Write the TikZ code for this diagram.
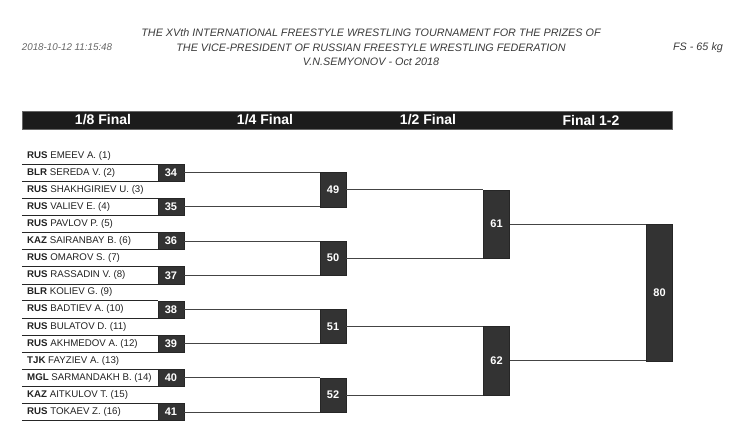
\documentclass[tikz,border=0pt]{standalone}
\usepackage{fontspec}
\setmainfont{Liberation Sans}
\usetikzlibrary{positioning}
\definecolor{ink}{HTML}{222222}
\definecolor{boxgray}{HTML}{333333}
\definecolor{barblack}{HTML}{1C1C1C}
\definecolor{titlegray}{HTML}{3A3A3A}
\definecolor{stampgray}{HTML}{666666}
\definecolor{wiregray}{HTML}{444444}

\begin{document}
\begin{tikzpicture}[x=1pt,y=-1pt,
 title/.style={font=\fontsize{10.8}{13}\selectfont\itshape,text=titlegray,inner sep=0pt},
 meta/.style={font=\fontsize{9.8}{11}\selectfont\itshape,text=stampgray,inner sep=0pt},
 bar/.style={fill=barblack,draw=black!60,minimum width=650pt,minimum height=18pt,inner sep=0pt},
 round/.style={font=\fontsize{14}{16}\selectfont\bfseries,text=white,inner sep=0pt},
 athlete/.style={anchor=west,inner sep=0pt,font=\fontsize{9.7}{11}\selectfont,text=ink},
 seat/.style={minimum width=136pt,minimum height=17.1pt,inner sep=0pt},
 bout/.style={fill=boxgray,draw=black!85,line width=.5pt,minimum width=26pt,inner sep=0pt,text=white,font=\fontsize{11}{12}\selectfont\bfseries},
 rule/.style={black!85,line width=.8pt},
 wire/.style={wiregray,line width=.8pt}]
 \useasboundingbox (0,0) rectangle (739,444);
 % heading
 \node[title] (head1) at (371,33) {THE XVth INTERNATIONAL FREESTYLE WRESTLING TOURNAMENT FOR THE PRIZES OF};
 \node[title] (head2) at (371,47.5) {THE VICE-PRESIDENT OF RUSSIAN FREESTYLE WRESTLING FEDERATION};
 \node[title] (head3) at (371,62) {V.N.SEMYONOV - Oct 2018};
 \node[meta] (stamp) at (67,47.5) {2018-10-12 11:15:48};
 \node[title] (weight) at (698,47.5) {FS - 65 kg};
 % round bar
 \node[bar] (rounds) at (347,120) {};
 \node[round] (r8) at (103,120) {1/8 Final};
 \node[round] (r4) at (265,120) {1/4 Final};
 \node[round] (r2) at (428,120) {1/2 Final};
 \node[round] (r1) at (591,120) {Final 1-2};
 % athletes
 \foreach \code/\who [count=\i] in {RUS/EMEEV A. (1),BLR/SEREDA V. (2),RUS/SHAKHGIRIEV U. (3),RUS/VALIEV E. (4),
   RUS/PAVLOV P. (5),KAZ/SAIRANBAY B. (6),RUS/OMAROV S. (7),RUS/RASSADIN V. (8),BLR/KOLIEV G. (9),
   RUS/BADTIEV A. (10),RUS/BULATOV D. (11),RUS/AKHMEDOV A. (12),TJK/FAYZIEV A. (13),
   MGL/SARMANDAKH B. (14),KAZ/AITKULOV T. (15),RUS/TOKAEV Z. (16)}
  \node[athlete] (p\i) at (27,{138.45+17.1*\i}) {\textbf{\code} \who};
 % first round bouts
 \foreach \n [count=\k] in {34,...,41}{
  \pgfmathsetmacro\yy{138.45+34.2*\k}
  \node[seat] (s\n) at (90,\yy) {};
  \draw[rule] (s\n.north west) -- (s\n.north east) (s\n.south west) -- (s\n.south east);
  \node[bout,minimum height=17.1pt] (b\n) at (171,\yy) {\n};
 }
 % later rounds
 \node[bout,minimum height=34.2pt] (b49) at (333,189.75) {49};
 \node[bout,minimum height=34.2pt] (b50) at (333,258.15) {50};
 \node[bout,minimum height=34.2pt] (b51) at (333,326.55) {51};
 \node[bout,minimum height=34.2pt] (b52) at (333,394.95) {52};
 \node[bout,minimum height=68.4pt] (b61) at (496.5,223.95) {61};
 \node[bout,minimum height=68.4pt] (b62) at (496.5,360.75) {62};
 \node[bout,minimum height=136.8pt] (b80) at (659.5,292.35) {80};
 \foreach \a/\b/\w in {34/35/49,36/37/50,38/39/51,40/41/52,49/50/61,51/52/62,61/62/80}{
  \draw[wire] (b\a.east) -- (b\a.east -| b\w.west);
  \draw[wire] (b\b.east) -- (b\b.east -| b\w.west);
 }
\end{tikzpicture}
\end{document}
